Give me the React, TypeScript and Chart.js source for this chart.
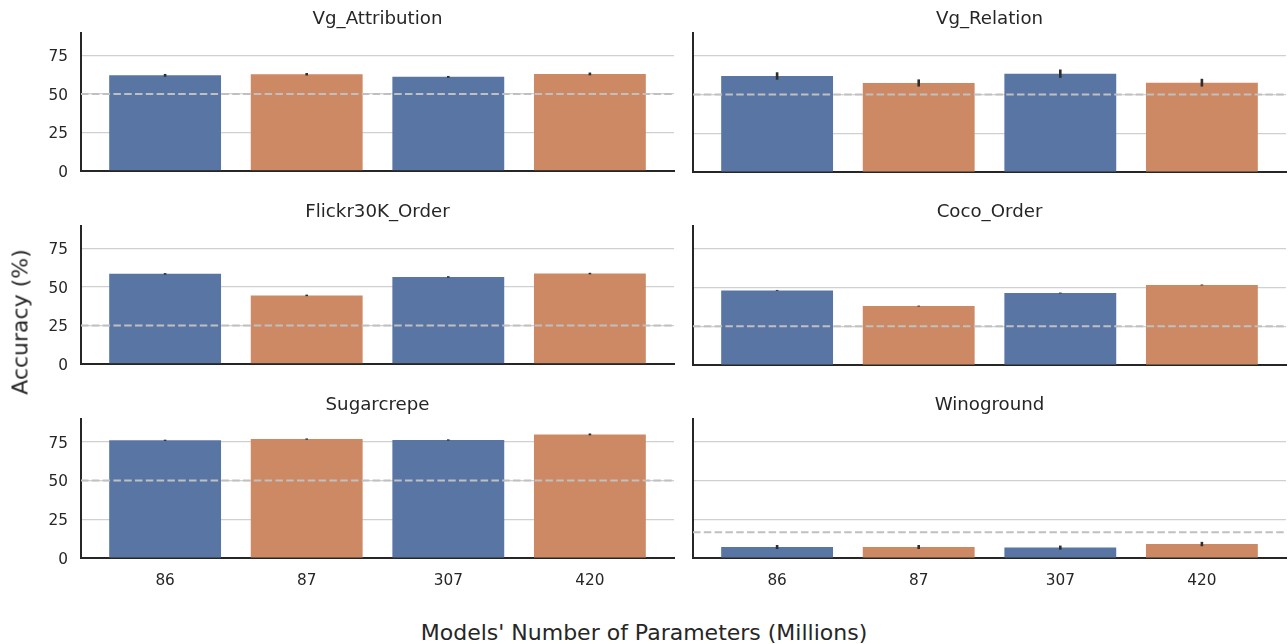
import React, { useEffect, useRef } from "react";
import { Chart, registerables } from "chart.js";

Chart.register(...registerables);

// Model sizes (millions of parameters) on the x axis
const categories = ["86", "87", "307", "420"];
const yTicks = [0, 25, 50, 75];

// Mean accuracy (%) per benchmark and its error half-width
const vgAttribution = [62.1, 62.8, 61.1, 63.0];
const vgAttributionErr = [0.9, 0.8, 0.6, 0.9];
const vgRelation = [61.9, 57.4, 63.4, 57.6];
const vgRelationErr = [2.4, 2.3, 2.7, 2.5];
const flickrOrder = [58.5, 44.5, 56.5, 58.7];
const flickrOrderErr = [0.5, 0.5, 0.5, 0.5];
const cocoOrder = [48.1, 38.0, 46.4, 51.6];
const cocoOrderErr = [0.3, 0.3, 0.3, 0.3];
const sugarcrepe = [75.9, 76.7, 76.1, 79.7];
const sugarcrepeErr = [0.4, 0.4, 0.4, 0.6];
const winoground = [7.1, 7.1, 6.7, 9.0];
const winogroundErr = [1.3, 1.3, 1.3, 1.4];

// Chance level of each benchmark
const chanceLevels = [50, 50, 25, 25, 50, 16.67];
const panelTitles = ["Vg_Attribution", "Vg_Relation", "Flickr30K_Order", "Coco_Order", "Sugarcrepe", "Winoground"];
const panelValues = [vgAttribution, vgRelation, flickrOrder, cocoOrder, sugarcrepe, winoground];
const panelErrors = [vgAttributionErr, vgRelationErr, flickrOrderErr, cocoOrderErr, sugarcrepeErr, winogroundErr];

const BLUE = "#5975a4";
const ORANGE = "#cc8963";
const barColors = [BLUE, ORANGE, BLUE, ORANGE];
const TEXT = "#262626";
const FONT = "'DejaVu Sans', sans-serif";

const X_MIN = -0.594;
const X_MAX = 3.594;
const Y_MAX = 89.6;

const errorBarPlugin = {
  id: "errorBars",
  afterDatasetsDraw(chart: any) {
    const errs: number[] = chart.options.plugins.errorBars?.errors || [];
    const yScale = chart.scales.y;
    chart.data.datasets.forEach((ds: any, di: number) => {
      if (ds.type !== "bar") return;
      const meta = chart.getDatasetMeta(di);
      const ctx = chart.ctx;
      ctx.save();
      ctx.strokeStyle = "#2e2e2e";
      ctx.lineWidth = 2.6;
      meta.data.forEach((el: any, i: number) => {
        const v = ds.data[i].y;
        const e = errs[i] || 0;
        ctx.beginPath();
        ctx.moveTo(el.x, yScale.getPixelForValue(v + e));
        ctx.lineTo(el.x, yScale.getPixelForValue(v - e));
        ctx.stroke();
      });
      ctx.restore();
    });
  },
};

type PanelProps = { index: number; left: number; top: number; width: number; height: number };

function Panel({ index, left, top, width, height }: PanelProps) {
  const ref = useRef<HTMLCanvasElement>(null);
  useEffect(() => {
    if (!ref.current) return;
    const isLeft = index % 2 === 0;
    const isBottom = index >= 4;
    const values = panelValues[index];
    const chance = chanceLevels[index];
    const chart = new Chart(ref.current, {
      type: "bar",
      data: {
        datasets: [
          {
            type: "line",
            data: [
              { x: X_MIN, y: chance },
              { x: X_MAX, y: chance },
            ],
            borderColor: "#c0c0c0",
            borderWidth: 2,
            borderDash: [7.5, 3.3],
            pointRadius: 0,
            order: 0,
          } as any,
          {
            type: "bar",
            data: values.map((v, i) => ({ x: i, y: v })),
            backgroundColor: barColors,
            borderWidth: 0,
            barPercentage: 0.79,
            categoryPercentage: 1,
            order: 1,
          } as any,
        ],
      },
      options: {
        animation: false,
        responsive: false,
        maintainAspectRatio: false,
        layout: { padding: { left: 0, right: isLeft ? 6 : 2, top: 0, bottom: 0 } },
        plugins: {
          legend: { display: false },
          tooltip: { enabled: false },
          title: {
            display: true,
            text: panelTitles[index],
            fullSize: false,
            color: TEXT,
            font: { family: FONT, size: 18.2, weight: "normal" },
            padding: { top: 8, bottom: 3.2 },
          },
          errorBars: { errors: panelErrors[index] },
        } as any,
        scales: {
          x: {
            type: "linear",
            min: X_MIN,
            max: X_MAX,
            offset: false,
            grid: { display: false, drawTicks: false },
            border: { display: true, color: TEXT, width: 2 },
            ticks: {
              display: isBottom,
              color: TEXT,
              font: { family: FONT, size: 15.3 },
              padding: 14,
              callback: (v: any) => categories[Math.round(Number(v))],
            },
            afterBuildTicks: (s: any) => {
              s.ticks = categories.map((_, i) => ({ value: i }));
            },
            afterFit: (s: any) => {
              s.height = isBottom ? 42 : 21;
            },
          },
          y: {
            min: 0,
            max: Y_MAX,
            grid: { color: "#d0d0d0", lineWidth: 1.2, drawTicks: false },
            border: { display: true, color: TEXT, width: 2 },
            ticks: {
              display: isLeft,
              color: TEXT,
              font: { family: FONT, size: 15.3 },
              padding: 13,
              labelOffset: 2,
            },
            afterBuildTicks: (s: any) => {
              s.ticks = yTicks.map((v) => ({ value: v }));
            },
            afterFit: (s: any) => {
              s.width = isLeft ? 81 : 13;
            },
          },
        } as any,
      },
      plugins: [errorBarPlugin],
    });
    return () => chart.destroy();
  }, [index]);
  return (
    <canvas
      ref={ref}
      width={width}
      height={height}
      style={{ position: "absolute", left, top, width, height }}
    />
  );
}

export default function App() {
  useEffect(() => {
    document.body.style.margin = "0";
  }, []);
  const panels: PanelProps[] = [];
  for (let r = 0; r < 3; r++) {
    for (let c = 0; c < 2; c++) {
      panels.push({
        index: r * 2 + c,
        left: c === 0 ? 0 : 680,
        top: r * 193,
        width: c === 0 ? 680 : 608,
        height: r === 2 ? 214 : 193,
      });
    }
  }
  return (
    <div style={{ position: "absolute", left: 0, top: 0, width: 1288, height: 644, background: "#fff", overflow: "hidden" }}>
      {panels.map((p) => (
        <Panel key={p.index} {...p} />
      ))}
      <div
        style={{
          position: "absolute",
          left: 20,
          top: 322,
          transform: "translate(-50%, -50%) rotate(-90deg)",
          fontFamily: FONT,
          fontSize: 22,
          color: TEXT,
          whiteSpace: "nowrap",
        }}
      >
        Accuracy (%)
      </div>
      <div
        style={{
          position: "absolute",
          left: 644,
          top: 632,
          transform: "translate(-50%, -50%)",
          fontFamily: FONT,
          fontSize: 22,
          color: TEXT,
          whiteSpace: "nowrap",
        }}
      >
        Models' Number of Parameters (Millions)
      </div>
    </div>
  );
}
